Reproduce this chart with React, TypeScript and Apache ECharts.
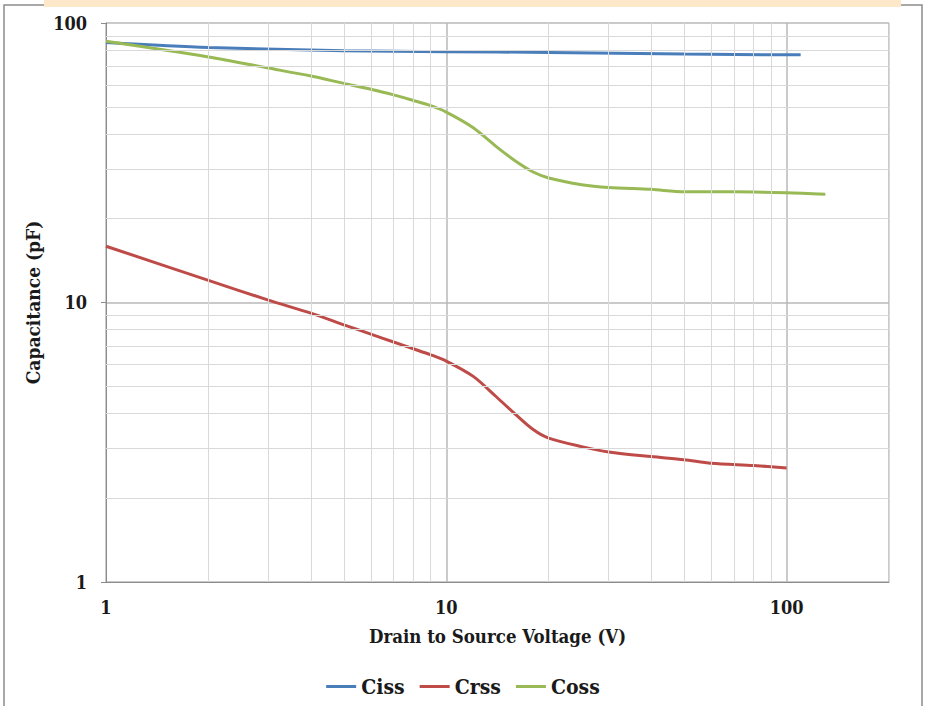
import React, { useEffect, useRef } from "react";
import * as echarts from "echarts";

const cissV = [1, 2, 5, 10, 20, 50, 100, 110];
const cissC = [85.2, 81.8, 79.6, 78.9, 78.5, 77.4, 77.0, 77.0];

const crssV = [1, 2, 3, 4, 5, 6, 7, 8, 9, 10, 12, 14, 16, 18, 20, 25, 30, 40, 50, 60, 80, 100];
const crssC = [15.9, 12.0, 10.2, 9.16, 8.32, 7.71, 7.22, 6.83, 6.5, 6.17, 5.44, 4.61, 3.97, 3.51, 3.27, 3.05, 2.92, 2.81, 2.74, 2.66, 2.61, 2.56];

const cossV = [1, 2, 3, 4, 5, 6, 7, 8, 9, 10, 12, 14, 16, 18, 20, 25, 30, 40, 50, 70, 100, 130];
const cossC = [86, 75.6, 69, 64.6, 60.8, 57.9, 55.3, 52.8, 50.6, 48, 42.2, 36.2, 32.0, 29.3, 27.9, 26.4, 25.8, 25.4, 24.9, 24.9, 24.7, 24.4];

const xMajorLabels = [1, 10, 100];
const yMajorLabels = [1, 10, 100];
const xMinorGrid = [2, 3, 4, 5, 6, 7, 8, 9, 20, 30, 40, 50, 60, 70, 80, 90, 200];
const yMinorGrid = [2, 3, 4, 5, 6, 7, 8, 9, 20, 30, 40, 50, 60, 70, 80, 90];

const seriesNames = ["Ciss", "Crss", "Coss"];
const colors = ["#4A7EBB", "#BE4B48", "#98B954"];

const FONT = "'DejaVu Serif Condensed', 'DejaVu Serif', serif";

const zip = (xs: number[], ys: number[]) => xs.map((x, i) => [x, ys[i]]);

const majorFmt = (list: number[]) => (v: number) => {
  const r = Math.round(v);
  return list.includes(r) && Math.abs(v - r) < 1e-6 ? String(r) : "";
};

export default function App() {
  const ref = useRef<HTMLDivElement>(null);
  useEffect(() => {
    if (!ref.current) return;
    const chart = echarts.init(ref.current, null, { renderer: "svg" });
    const datasets = [zip(cissV, cissC), zip(crssV, crssC), zip(cossV, cossC)];
    chart.setOption({
      animation: false,
      backgroundColor: "#ffffff",
      grid: { left: 106, right: 37, top: 23, bottom: 124 },
      legend: {
        data: seriesNames,
        top: 671,
        left: "center",
        itemWidth: 30,
        itemHeight: 3,
        itemGap: 15,
        icon: "rect",
        textStyle: { fontFamily: FONT, fontWeight: "bold", fontSize: 21, color: "#1a1a1a" },
      },
      xAxis: {
        type: "log",
        logBase: 10,
        min: 1,
        max: 200,
        name: "Drain to Source Voltage (V)",
        nameLocation: "middle",
        nameGap: 45,
        nameTextStyle: { fontFamily: FONT, fontWeight: "bold", fontSize: 18.5, color: "#1a1a1a" },
        axisLine: { show: true, lineStyle: { color: "#8c8c8c", width: 1 } },
        axisTick: { show: false },
        axisLabel: {
          margin: 16,
          fontFamily: FONT,
          fontWeight: "bold",
          fontSize: 18,
          color: "#1a1a1a",
          formatter: majorFmt(xMajorLabels),
        },
        splitLine: { show: true, lineStyle: { color: "#b8b8b8", width: 1.5 } },
      },
      yAxis: {
        type: "log",
        logBase: 10,
        min: 1,
        max: 100,
        name: "Capacitance (pF)",
        nameLocation: "middle",
        nameGap: 57,
        nameTextStyle: { fontFamily: FONT, fontWeight: "bold", fontSize: 19, color: "#1a1a1a" },
        axisLine: { show: true, lineStyle: { color: "#8c8c8c", width: 1 } },
        axisTick: { show: true, length: 5, lineStyle: { color: "#8c8c8c" } },
        axisLabel: {
          margin: 19,
          fontFamily: FONT,
          fontWeight: "bold",
          fontSize: 18,
          color: "#1a1a1a",
          formatter: majorFmt(yMajorLabels),
        },
        splitLine: { show: true, lineStyle: { color: "#b8b8b8", width: 1.5 } },
      },
      series: [
        {
          name: "grid",
          type: "line",
          data: [],
          z: 1,
          silent: true,
          markLine: {
            silent: true,
            symbol: ["none", "none"],
            label: { show: false },
            lineStyle: { color: "#d9d9d9", width: 1, type: "solid" },
            data: [
              ...xMinorGrid.map((v) => ({ xAxis: v })),
              ...yMinorGrid.map((v) => ({ yAxis: v })),
            ],
          },
        },
        ...seriesNames.map((name, i) => ({
          name,
          type: "line",
          data: datasets[i],
          smooth: 0.3,
          symbol: "none",
          z: 3,
          color: colors[i],
          lineStyle: { color: colors[i], width: 3 },
        })),
      ],
      graphic: [
        { type: "rect", shape: { x: 44, y: 0, width: 857, height: 7 }, style: { fill: "#FDE9CA" }, silent: true },
        { type: "polyline", shape: { points: [[4, 706], [4, 5], [44, 5]] }, style: { stroke: "#8c8c8c", lineWidth: 1.5, fill: null }, silent: true },
        { type: "polyline", shape: { points: [[901, 5], [922, 5], [922, 706]] }, style: { stroke: "#8c8c8c", lineWidth: 1.5, fill: null }, silent: true },
      ],
    });
    return () => chart.dispose();
  }, []);
  return <div ref={ref} style={{ position: "absolute", left: 0, top: 0, width: 926, height: 706 }} />;
}
